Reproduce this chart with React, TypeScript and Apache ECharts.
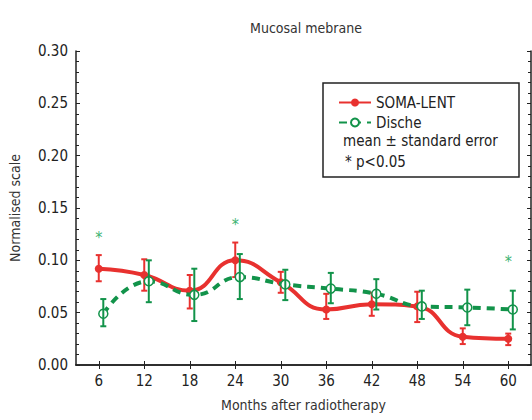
import React, { useEffect, useRef } from "react";
import * as echarts from "echarts";

const months = [6, 12, 18, 24, 30, 36, 42, 48, 54, 60];
const somaMean = [0.092, 0.086, 0.071, 0.1, 0.079, 0.053, 0.058, 0.056, 0.027, 0.025];
const somaLow = [0.08, 0.071, 0.054, 0.084, 0.069, 0.044, 0.047, 0.041, 0.02, 0.019];
const somaHigh = [0.105, 0.101, 0.086, 0.117, 0.089, 0.068, 0.069, 0.07, 0.035, 0.03];
const discheMean = [0.049, 0.08, 0.067, 0.084, 0.077, 0.073, 0.068, 0.056, 0.055, 0.053];
const discheLow = [0.037, 0.06, 0.042, 0.063, 0.062, 0.059, 0.053, 0.044, 0.038, 0.034];
const discheHigh = [0.063, 0.1, 0.092, 0.106, 0.091, 0.088, 0.082, 0.071, 0.072, 0.071];
const discheOffset = 0.6;
const sigMonths = [6, 24, 60];
const sigValues = [0.122, 0.134, 0.099];
const yTicks = [0, 0.05, 0.1, 0.15, 0.2, 0.25, 0.3];

const RED = "#e8312f";
const GREEN = "#12934a";
const FONT = "'DejaVu Sans Condensed', 'Liberation Sans Narrow', sans-serif";

function errorBars(color: string) {
  return function (params: any, api: any) {
    const x = api.value(0);
    const lo = api.coord([x, api.value(1)]);
    const hi = api.coord([x, api.value(2)]);
    const w = 3;
    const style = { stroke: color, lineWidth: 2 };
    return {
      type: "group",
      children: [
        { type: "line", shape: { x1: lo[0], y1: lo[1], x2: hi[0], y2: hi[1] }, style },
        { type: "line", shape: { x1: lo[0] - w, y1: lo[1], x2: lo[0] + w, y2: lo[1] }, style },
        { type: "line", shape: { x1: hi[0] - w, y1: hi[1], x2: hi[0] + w, y2: hi[1] }, style },
      ],
    };
  };
}

export default function App() {
  const ref = useRef<HTMLDivElement>(null);
  useEffect(() => {
    if (!ref.current) return;
    const chart = echarts.init(ref.current, null, { renderer: "svg" });
    const somaLine = months.map((m, i) => [m, somaMean[i]]);
    const discheLine = months.map((m, i) => [m + discheOffset, discheMean[i]]);
    const somaErr = months.map((m, i) => [m, somaLow[i], somaHigh[i]]);
    const discheErr = months.map((m, i) => [m + discheOffset, discheLow[i], discheHigh[i]]);
    const sig = sigMonths.map((m, i) => [m, sigValues[i]]);
    const axisLine = { show: true, lineStyle: { color: "#222", width: 1.5 } };
    chart.setOption({
      animation: false,
      textStyle: { fontFamily: FONT },
      title: {
        text: "Mucosal mebrane",
        left: 301,
        top: 16,
        textAlign: "center",
        textStyle: { fontSize: 14, fontWeight: "normal", color: "#333", fontFamily: FONT },
      },
      grid: { left: 73, right: 1, top: 51, bottom: 55 },
      legend: {
        orient: "vertical",
        left: 333,
        top: 90,
        itemWidth: 32,
        itemHeight: 10,
        itemGap: 5,
        data: ["SOMA-LENT", "Dische"],
        textStyle: { fontSize: 15, color: "#222", fontFamily: FONT },
      },
      xAxis: [
        {
          type: "value",
          min: 3,
          max: 63,
          name: "Months after radiotherapy",
          nameLocation: "middle",
          nameGap: 33,
          nameTextStyle: { fontSize: 14, color: "#333", fontFamily: FONT },
          axisLine,
          splitLine: { show: false },
          axisTick: { inside: true, length: 4, customValues: months, lineStyle: { color: "#222" } },
          axisLabel: { customValues: months, fontSize: 15, color: "#222", margin: 8, fontFamily: FONT },
        },
        {
          type: "value",
          position: "top",
          min: 3,
          max: 63,
          axisLine,
          splitLine: { show: false },
          axisTick: { inside: true, length: 4, customValues: months, lineStyle: { color: "#222" } },
          axisLabel: { show: false },
        },
      ],
      yAxis: [
        {
          type: "value",
          min: 0,
          max: 0.3,
          interval: 0.05,
          name: "Normalised scale",
          nameLocation: "middle",
          nameGap: 54,
          nameTextStyle: { fontSize: 14, color: "#333", fontFamily: FONT },
          axisLine,
          splitLine: { show: false },
          axisTick: { inside: true, length: 4, lineStyle: { color: "#222" } },
          minorTick: { show: true, splitNumber: 5, length: 3, lineStyle: { color: "#222" } },
          axisLabel: {
            fontSize: 15,
            color: "#222",
            margin: 8,
            fontFamily: FONT,
            customValues: yTicks,
            formatter: (v: number) => v.toFixed(2),
          },
        },
        {
          type: "value",
          position: "right",
          min: 0,
          max: 0.3,
          interval: 0.05,
          axisLine,
          splitLine: { show: false },
          axisTick: { inside: true, length: 4, lineStyle: { color: "#222" } },
          minorTick: { show: true, splitNumber: 5, length: 3, lineStyle: { color: "#222" } },
          axisLabel: { show: false },
        },
      ],
      graphic: [
        {
          type: "rect",
          shape: { x: 323, y: 83, width: 196, height: 94 },
          style: { fill: "#fff", stroke: "#222", lineWidth: 1.5 },
          z: 0,
        },
        {
          type: "text",
          x: 343,
          y: 133,
          style: { text: "mean ± standard error", fontSize: 15, fill: "#222", fontFamily: FONT },
          z: 10,
        },
        {
          type: "text",
          x: 345,
          y: 154,
          style: { text: "* p<0.05", fontSize: 15, fill: "#222", fontFamily: FONT },
          z: 10,
        },
      ],
      series: [
        {
          name: "SOMA-LENT",
          type: "line",
          data: somaLine,
          smooth: 0.5,
          symbol: "circle",
          symbolSize: 8,
          itemStyle: { color: RED },
          lineStyle: { color: RED, width: 4 },
          z: 3,
        },
        {
          name: "Dische",
          type: "line",
          data: discheLine,
          smooth: 0.5,
          symbol: "circle",
          symbolSize: 9,
          itemStyle: { color: "#fff", borderColor: GREEN, borderWidth: 1.5 },
          lineStyle: { color: GREEN, width: 4, type: [8, 6] },
          z: 4,
        },
        {
          name: "SOMA-LENT error",
          type: "custom",
          data: somaErr,
          renderItem: errorBars(RED),
          z: 2,
        },
        {
          name: "Dische error",
          type: "custom",
          data: discheErr,
          renderItem: errorBars(GREEN),
          z: 5,
        },
        {
          name: "significance",
          type: "custom",
          data: sig,
          renderItem: (params: any, api: any) => {
            const p = api.coord([api.value(0), api.value(1)]);
            return {
              type: "text",
              x: p[0],
              y: p[1],
              style: {
                text: "*",
                fontSize: 16,
                fill: "#3cb371",
                align: "center",
                verticalAlign: "middle",
                fontFamily: FONT,
              },
            };
          },
        },
      ],
    });
    return () => chart.dispose();
  }, []);
  return <div ref={ref} style={{ width: 532, height: 420, position: "absolute", left: 0, top: 0 }} />;
}
